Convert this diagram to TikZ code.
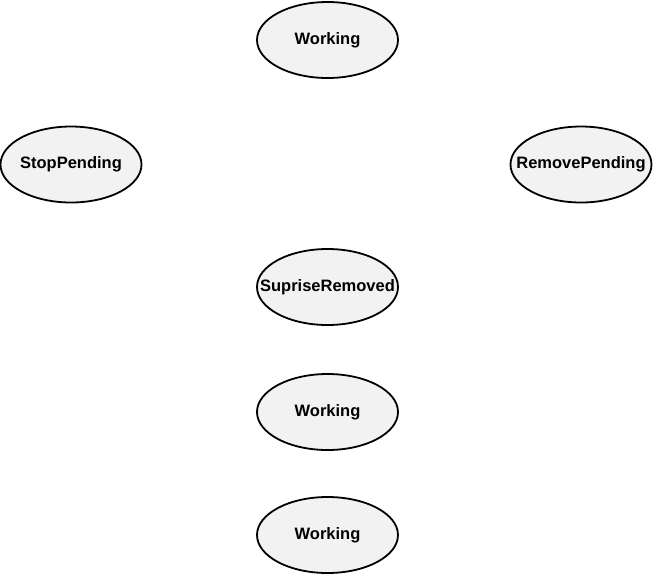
\documentclass[tikz,border=0pt]{standalone}
\usepackage{fontspec}
\setmainfont{Liberation Sans}
\usetikzlibrary{shapes.geometric}
\definecolor{statefill}{HTML}{F2F2F2}
\tikzset{
  state/.style={ellipse, draw=black, line width=1.8pt, fill=statefill,
    minimum width=141pt, minimum height=76pt, inner sep=0pt,
    font=\fontsize{16.5}{19}\selectfont\bfseries}
}
\newcommand{\stlabel}[1]{\raisebox{-3pt}{\makebox[0pt]{#1}}}
\begin{document}
\begin{tikzpicture}[x=1pt,y=-1pt]
\useasboundingbox (0,0) rectangle (653,574);
\node[state] (w1) at (327.5,40) {\stlabel{Working}};
\node[state] (sp) at (71,164.5) {\stlabel{StopPending}};
\node[state] (rp) at (581,164.5) {\stlabel{RemovePending}};
\node[state] (sr) at (327.5,287) {\stlabel{SupriseRemoved}};
\node[state] (w2) at (327.5,412) {\stlabel{Working}};
\node[state] (w3) at (327.5,535) {\stlabel{Working}};
\end{tikzpicture}
\end{document}
